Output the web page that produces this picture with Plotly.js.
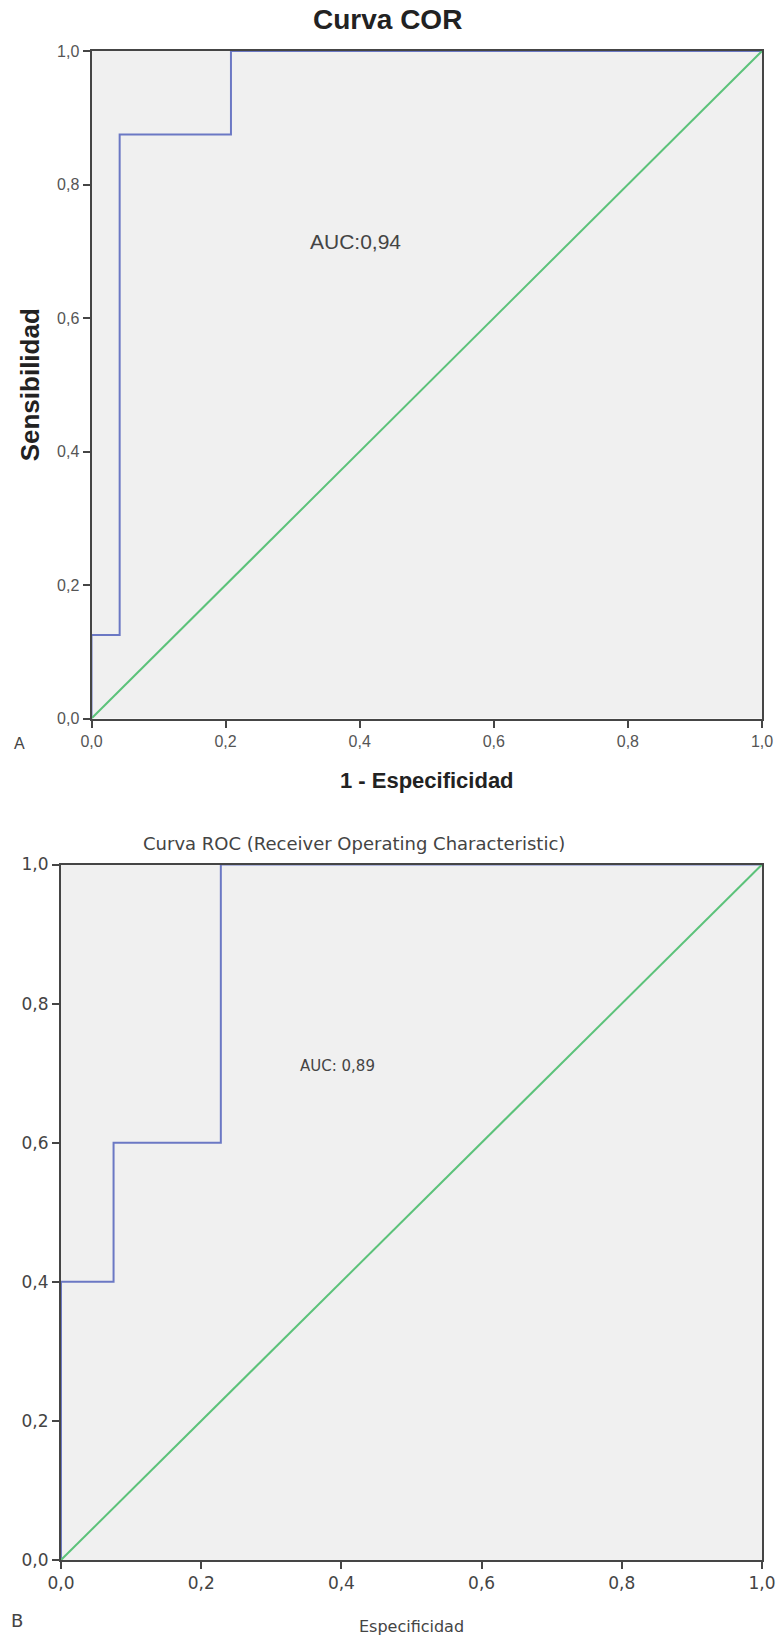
<!DOCTYPE html>
<html>
<head>
<meta charset="utf-8">
<script src="https://cdn.plot.ly/plotly-3.0.1.min.js"></script>
<style>html,body{margin:0;padding:0;background:#fff;}#chart{width:776px;height:1637px;}</style>
</head>
<body>
<div id="chart"></div>
<script>
// Chart A (Curva COR)
const fprA = [0, 0, 0.042, 0.042, 0.208, 0.208, 1];
const tprA = [0, 0.125, 0.125, 0.875, 0.875, 1, 1];
// Chart B (Curva ROC)
const fprB = [0, 0, 0.075, 0.075, 0.228, 0.228, 1];
const tprB = [0, 0.4, 0.4, 0.6, 0.6, 1, 1];
// reference diagonal
const diagX = [0, 1];
const diagY = [0, 1];
// ticks
const tickVals = [0, 0.2, 0.4, 0.6, 0.8, 1.0];
const tickText = ["0,0", "0,2", "0,4", "0,6", "0,8", "1,0"];
// texts
const titleA = "Curva COR";
const titleB = "Curva ROC (Receiver Operating Characteristic)";
const xTitleA = "1 - Especificidad";
const yTitleA = "Sensibilidad";
const xTitleB = "Especificidad";
const aucA = "AUC:0,94";
const aucB = "AUC: 0,89";

const W = 776, H = 1637;
const px = v => v / W;
const py = v => 1 - v / H;

const blue = '#6b78c4';
const green = '#5cc27a';
const axisCol = '#454545';

const fontA = 'Liberation Sans, Arial, sans-serif';
const fontB = 'DejaVu Sans, Verdana, sans-serif';

const traces = [
  {x: fprA, y: tprA, xaxis: 'x', yaxis: 'y', mode: 'lines', line: {color: blue, width: 2}, cliponaxis: false, hoverinfo: 'skip'},
  {x: diagX, y: diagY, xaxis: 'x', yaxis: 'y', mode: 'lines', line: {color: green, width: 2}, cliponaxis: false, hoverinfo: 'skip'},
  {x: fprB, y: tprB, xaxis: 'x2', yaxis: 'y2', mode: 'lines', line: {color: blue, width: 2}, cliponaxis: false, hoverinfo: 'skip'},
  {x: diagX, y: diagY, xaxis: 'x2', yaxis: 'y2', mode: 'lines', line: {color: green, width: 2}, cliponaxis: false, hoverinfo: 'skip'}
];

function axis(extra) {
  return Object.assign({
    range: [0, 1], tickmode: 'array', tickvals: tickVals, ticktext: tickText,
    showgrid: false, zeroline: false, showline: true, mirror: true,
    linecolor: axisCol, linewidth: 2, ticks: 'outside', ticklen: 7, tickwidth: 2, tickcolor: axisCol,
    fixedrange: true
  }, extra);
}

function ann(text, xref, yref, x, y, font) {
  return {text: text, xref: xref, yref: yref, x: x, y: y, xanchor: 'center', yanchor: 'middle',
    showarrow: false, font: font};
}

const layout = {
  width: W, height: H,
  margin: {l: 0, r: 0, t: 0, b: 0},
  paper_bgcolor: '#ffffff',
  plot_bgcolor: '#f0f0f0',
  showlegend: false,
  xaxis: axis({domain: [px(91.5), px(762)], anchor: 'y',
    tickfont: {family: fontA, size: 16, color: '#555'},
    title: {text: xTitleA, font: {family: fontA, size: 22, color: '#222', weight: 'bold'}, standoff: 24}}),
  yaxis: axis({domain: [py(718.5), py(51)], anchor: 'x',
    tickfont: {family: fontA, size: 16, color: '#555'},
    title: {text: yTitleA, font: {family: fontA, size: 26, color: '#222', weight: 'bold'}, standoff: 10}}),
  xaxis2: axis({domain: [px(61), px(762)], anchor: 'y2',
    tickfont: {family: fontB, size: 17, color: '#444'},
    title: {text: xTitleB, font: {family: fontB, size: 16, color: '#444'}, standoff: 28}}),
  yaxis2: axis({domain: [py(1560), py(864.5)], anchor: 'x2',
    tickfont: {family: fontB, size: 17, color: '#444'}}),
  annotations: [
    ann(titleA, 'paper', 'paper', px(387), py(19), {family: fontA, size: 28, color: '#222', weight: 'bold'}),
    ann(titleB, 'paper', 'paper', px(354), py(843), {family: fontB, size: 18, color: '#444'}),
    ann(aucA, 'x', 'y', 0.394, 0.715, {family: fontA, size: 21, color: '#444'}),
    ann(aucB, 'x2', 'y2', 0.394, 0.71, {family: fontB, size: 15, color: '#444'}),
    ann('A', 'paper', 'paper', px(19), py(743), {family: fontA, size: 16, color: '#444'}),
    ann('B', 'paper', 'paper', px(17), py(1620), {family: fontB, size: 18, color: '#444'})
  ]
};

Plotly.newPlot('chart', traces, layout, {displayModeBar: false, staticPlot: true});
</script>
</body>
</html>
